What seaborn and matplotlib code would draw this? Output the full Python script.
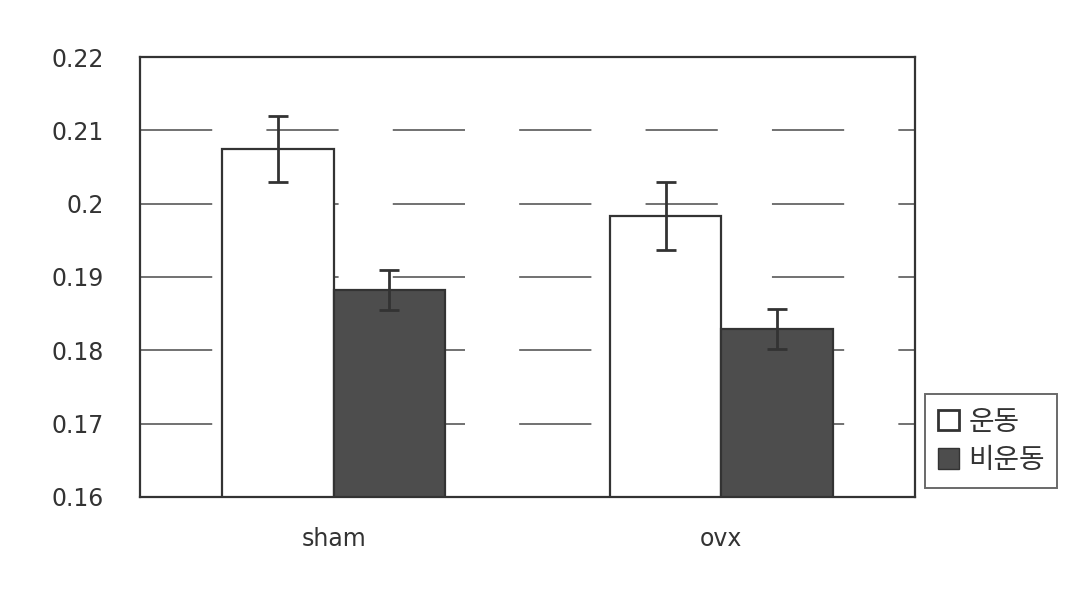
import matplotlib
matplotlib.use("Agg")
import matplotlib.pyplot as plt
import pandas as pd
import seaborn as sns

groups = ["sham", "ovx"]
conditions = ["운동", "비운동"]
means_exercise = [0.2075, 0.1983]
means_rest = [0.1882, 0.1829]
err_exercise = [0.0045, 0.0046]
err_rest = [0.0027, 0.0027]
yticks = [0.16, 0.17, 0.18, 0.19, 0.2, 0.21, 0.22]
ytick_labels = ["0.16", "0.17", "0.18", "0.19", "0.2", "0.21", "0.22"]

sns.set_theme(style="white")
plt.rcParams["font.family"] = ["DejaVu Sans", "Noto Sans CJK KR"]

df = pd.DataFrame({
    "group": groups * 2,
    "condition": [conditions[0]] * 2 + [conditions[1]] * 2,
    "value": means_exercise + means_rest,
    "err": err_exercise + err_rest,
})

fig = plt.figure(figsize=(10.91, 5.95), dpi=100)
ax = fig.add_axes([0.128, 0.165, 0.711, 0.739])

# broken scan-like grid lines
for y in yticks[1:-1]:
    ax.axhline(y, color="#666666", lw=1.3, dashes=(40, 30), zorder=0)

sns.barplot(
    data=df, x="group", y="value", hue="condition", order=groups,
    hue_order=conditions, palette=["white", "#4d4d4d"], width=0.575,
    edgecolor="#333333", linewidth=1.6, errorbar=None, ax=ax, zorder=2,
    legend=False,
)

# error bars placed on bar centres
for patch, (_, row) in zip(ax.patches, df.iterrows()):
    cx = patch.get_x() + patch.get_width() / 2
    ax.errorbar(cx, row["value"], yerr=row["err"], color="#333333",
                capsize=7, capthick=2, elinewidth=2, zorder=3)

ax.set_ylim(0.16, 0.22)
ax.set_xlim(-0.5, 1.5)
ax.set_yticks(yticks)
ax.set_yticklabels(ytick_labels, fontsize=17, color="#333333")
ax.tick_params(axis="x", labelsize=17, colors="#333333", pad=22, length=0)
ax.tick_params(axis="y", pad=26, length=0)
ax.set_xlabel("")
ax.set_ylabel("")
for s in ax.spines.values():
    s.set_color("#333333")
    s.set_linewidth(1.6)

handles = [
    plt.Rectangle((0, 0), 1, 1, facecolor="white", edgecolor="#333333", lw=2),
    plt.Rectangle((0, 0), 1, 1, facecolor="#4d4d4d", edgecolor="#333333", lw=1),
]
leg = fig.legend(
    handles, conditions, loc="upper left", bbox_to_anchor=(0.848, 0.337),
    prop={"family": ["Noto Sans CJK KR"], "size": 20}, frameon=True,
    fancybox=False, edgecolor="#444444", handlelength=0.75,
    handleheight=0.75, handletextpad=0.35, labelspacing=0.3,
    borderpad=0.45, borderaxespad=0, labelcolor="#333333",
)
leg.get_frame().set_linewidth(1.4)

fig.savefig("out.png", dpi=100)
